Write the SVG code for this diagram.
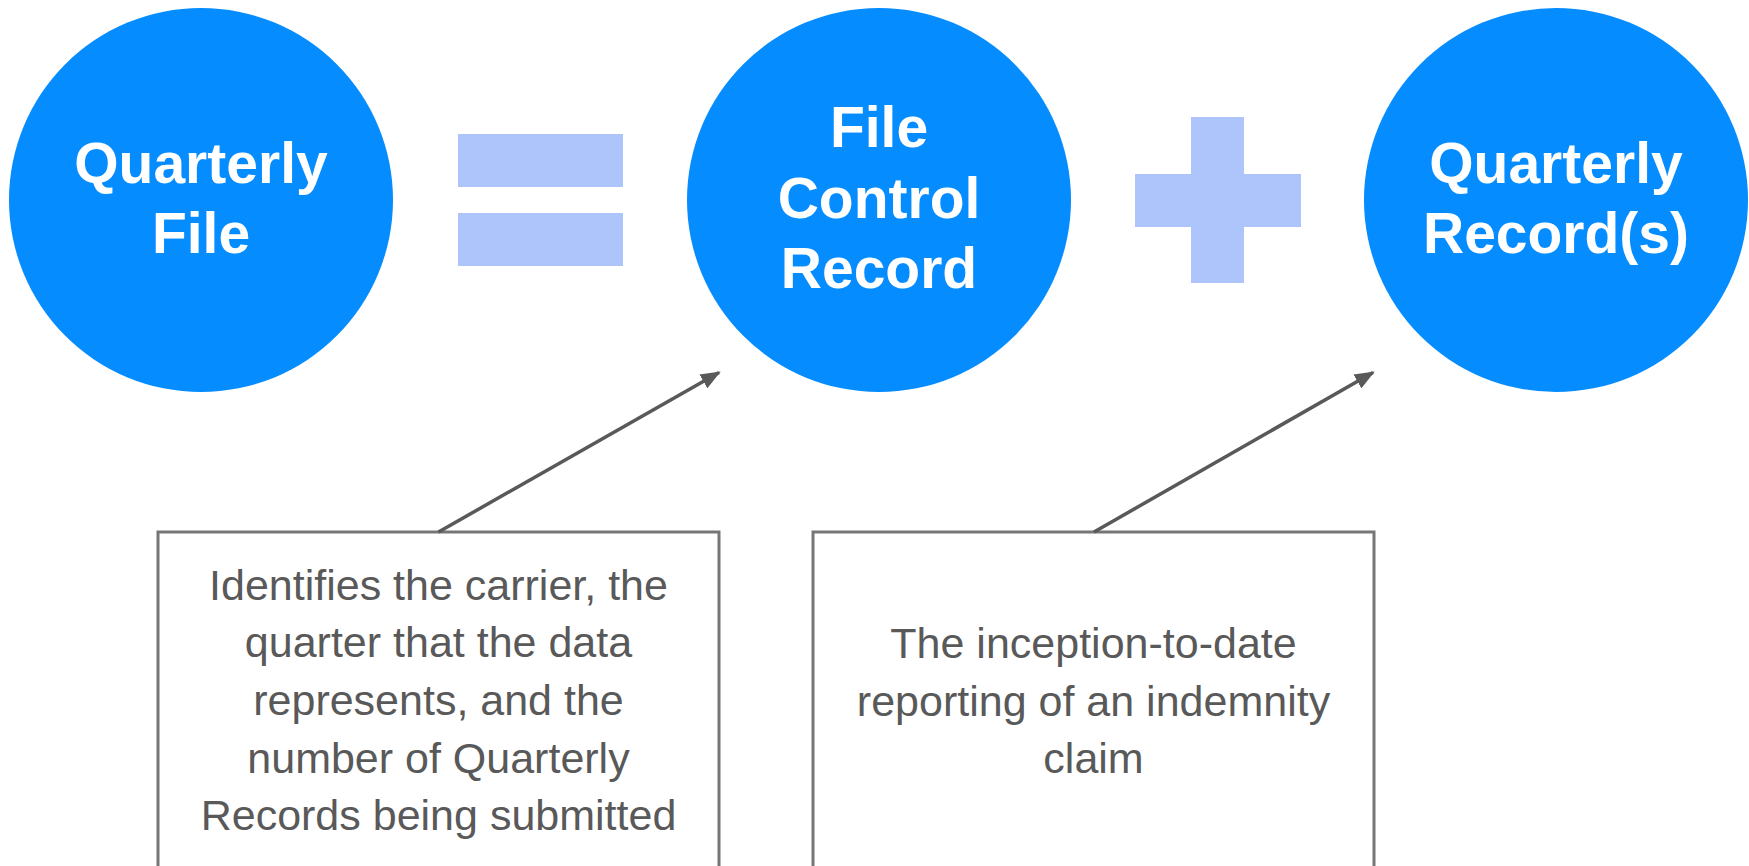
<svg xmlns="http://www.w3.org/2000/svg" width="1749" height="866" viewBox="0 0 1749 866">
<defs>
<style>
.node{fill:#058cff;}
.ntext{fill:#ffffff;font-family:"Liberation Sans",Arial,sans-serif;font-weight:bold;font-size:57px;text-anchor:middle;}
.op{fill:#adc5fb;}
.box{fill:#ffffff;stroke:#767676;stroke-width:3;}
.btext{fill:#595959;font-family:"Liberation Sans",Arial,sans-serif;font-size:43px;text-anchor:middle;}
.conn{stroke:#595959;stroke-width:3.5;fill:none;marker-end:url(#arrow);}
</style>
<marker id="arrow" markerUnits="userSpaceOnUse" markerWidth="20" markerHeight="16" viewBox="0 0 20 16" refX="18" refY="8" orient="auto">
<path d="M0,0 L20,8 L0,16 Z" fill="#595959"/>
</marker>
</defs>
<rect width="1749" height="866" fill="#ffffff"/>
<g id="quarterly-file">
<circle class="node" cx="201" cy="200" r="192"/>
<text class="ntext" x="201" y="183">Quarterly</text>
<text class="ntext" x="201" y="253">File</text>
</g>
<g id="equals">
<rect class="op" x="458" y="134" width="165" height="53"/>
<rect class="op" x="458" y="213" width="165" height="53"/>
</g>
<g id="file-control-record">
<circle class="node" cx="879" cy="200" r="192"/>
<text class="ntext" x="879" y="147">File</text>
<text class="ntext" x="879" y="218">Control</text>
<text class="ntext" x="879" y="288">Record</text>
</g>
<g id="plus">
<rect class="op" x="1191" y="117" width="53" height="166"/>
<rect class="op" x="1135" y="174" width="166" height="53"/>
</g>
<g id="quarterly-records">
<circle class="node" cx="1556" cy="200" r="192"/>
<text class="ntext" x="1556" y="183">Quarterly</text>
<text class="ntext" x="1556" y="253">Record(s)</text>
</g>
<g id="note-fcr">
<rect class="box" x="158" y="532" width="561" height="360"/>
<text class="btext" x="438.5" y="600">Identifies the carrier, the</text>
<text class="btext" x="438.5" y="657">quarter that the data</text>
<text class="btext" x="438.5" y="715">represents, and the</text>
<text class="btext" x="438.5" y="773">number of Quarterly</text>
<text class="btext" x="438.5" y="830">Records being submitted</text>
</g>
<g id="note-qr">
<rect class="box" x="813" y="532" width="561" height="360"/>
<text class="btext" x="1093.5" y="658">The inception-to-date</text>
<text class="btext" x="1093.5" y="716">reporting of an indemnity</text>
<text class="btext" x="1093.5" y="773">claim</text>
</g>
<g id="connectors">
<line class="conn" x1="438.5" y1="532" x2="719" y2="372.5"/>
<line class="conn" x1="1094" y1="532" x2="1373" y2="372.5"/>
</g>
</svg>
